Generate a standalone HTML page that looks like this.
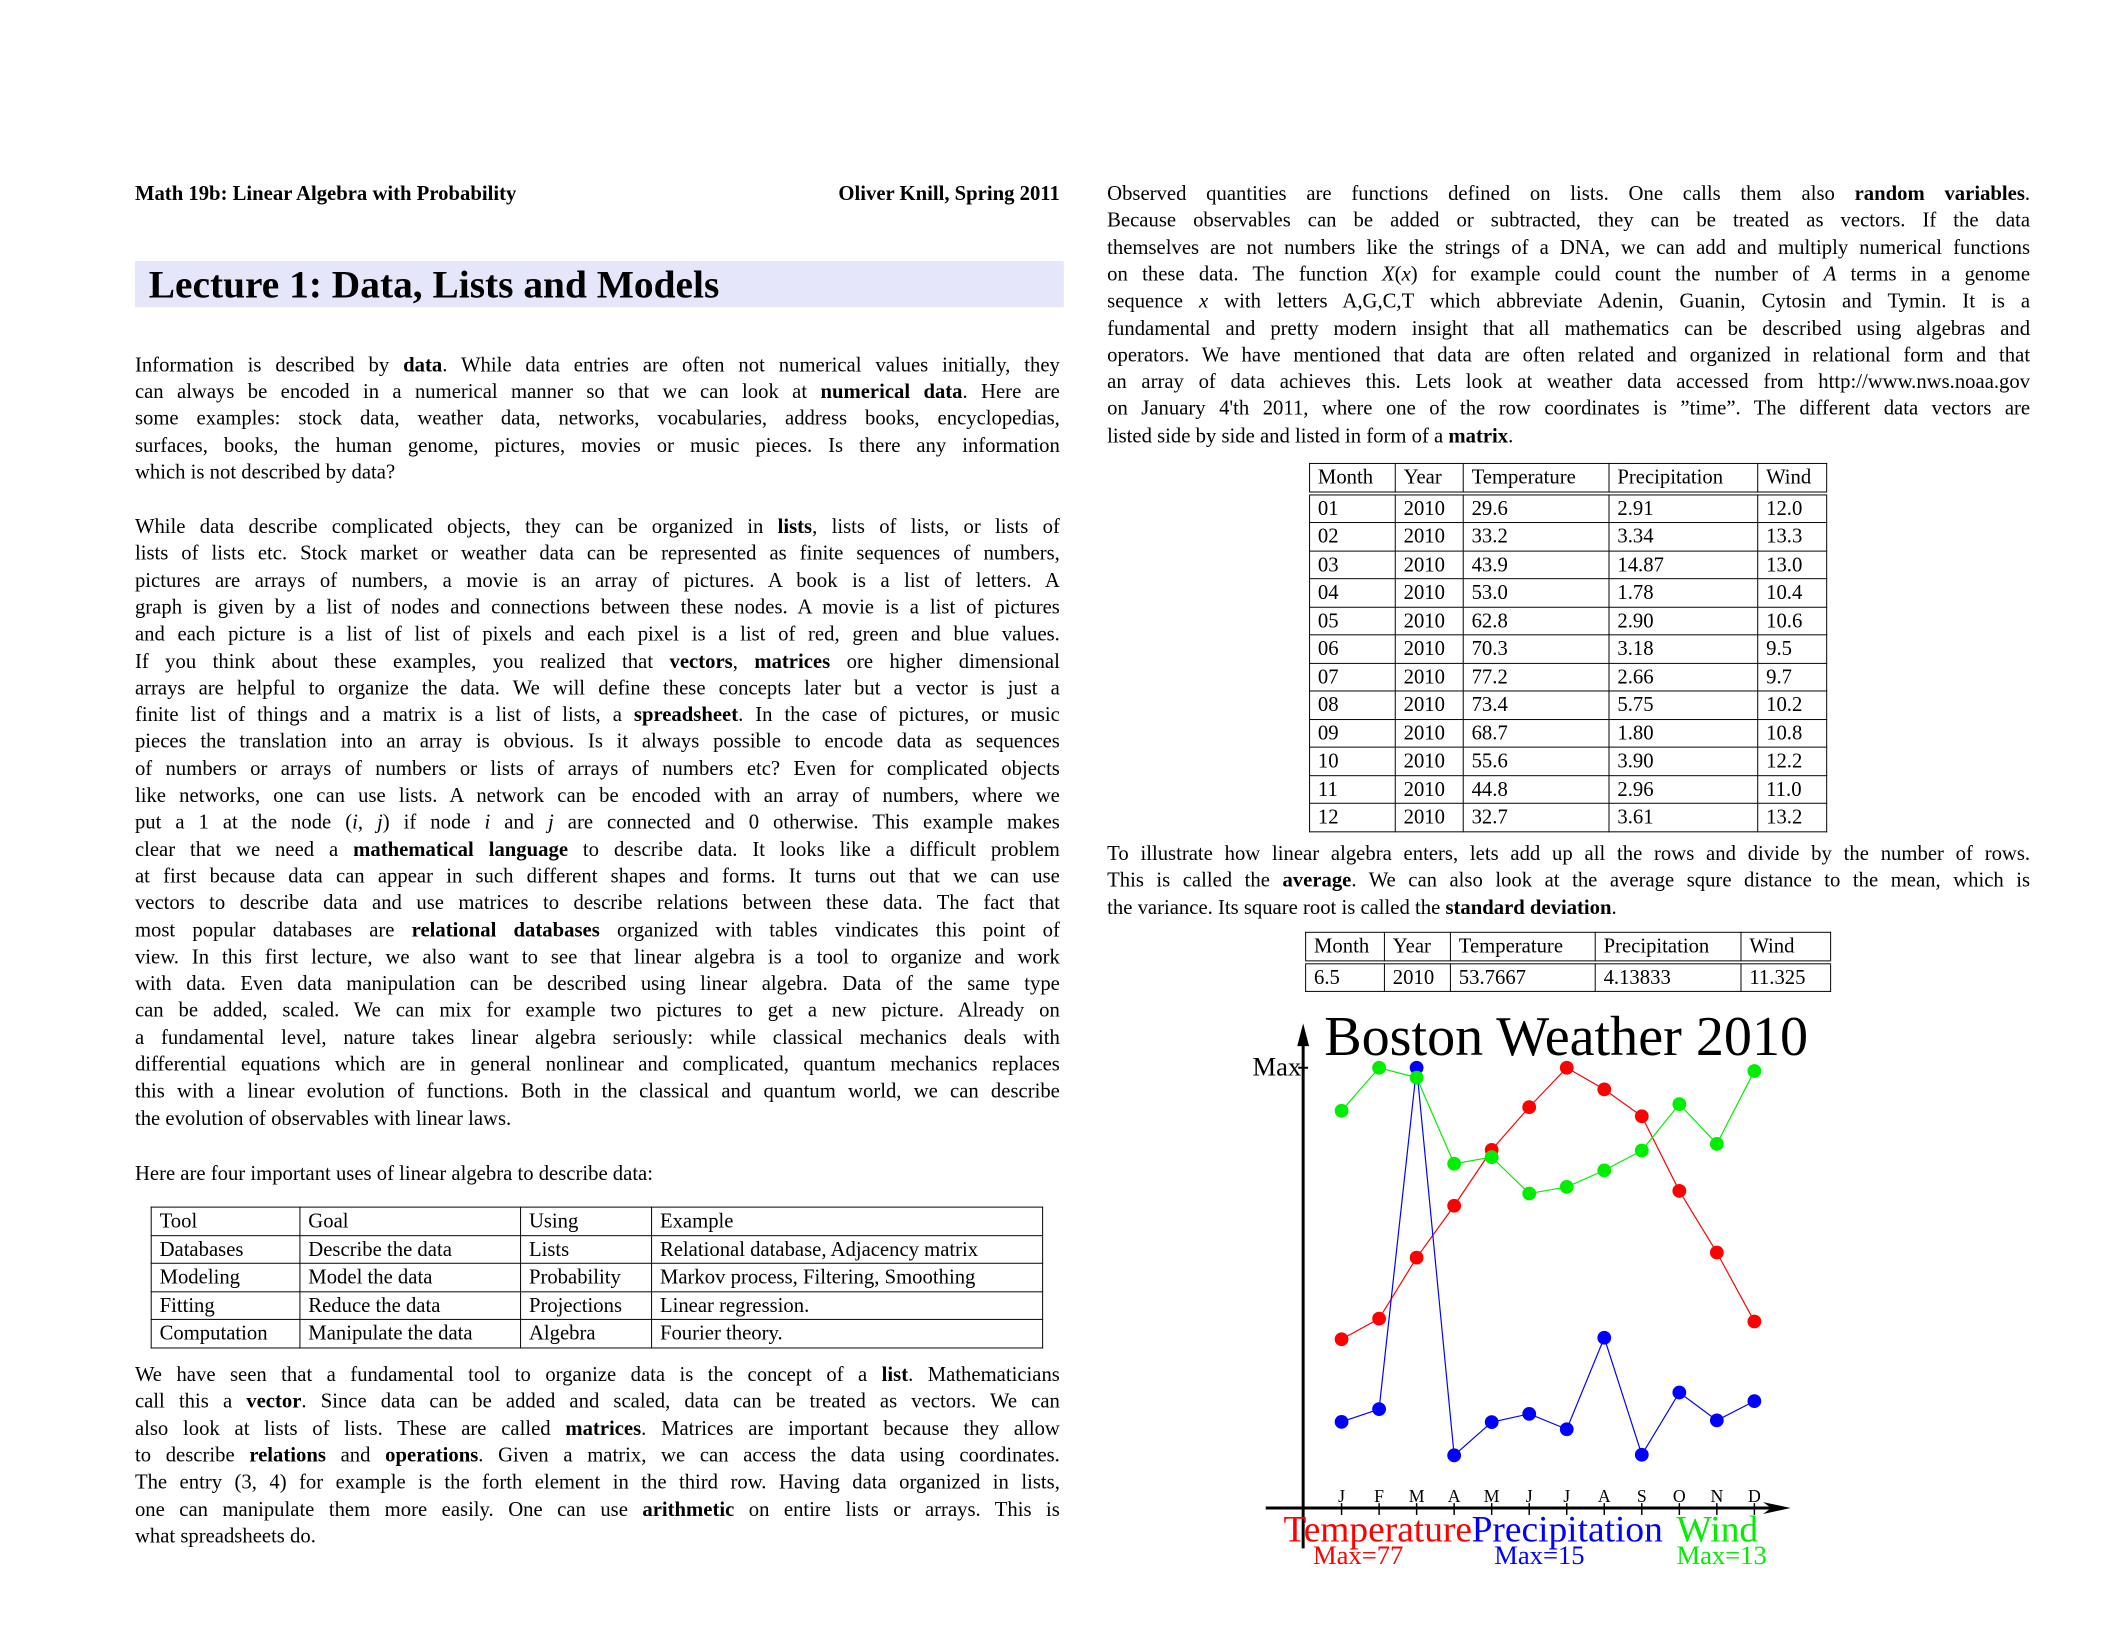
<!DOCTYPE html>
<html><head><meta charset="utf-8">
<style>
body{margin:0;background:#fff;}
#page{position:relative;width:2112px;height:1632px;overflow:hidden;background:#fff;font-family:"Liberation Serif",serif;color:#000;}
#inner{position:absolute;left:0;top:0;width:2144px;height:1657px;transform:scale(0.985);transform-origin:0 0;}
.ln{position:absolute;white-space:nowrap;font-size:21px;line-height:27px;text-align:justify;text-align-last:justify;}
.last{text-align-last:left;}
b{font-weight:bold;}
table{position:absolute;border-collapse:collapse;font-size:21px;}
td{border:1.5px solid #000;padding:0 8px;height:27.5px;line-height:27.5px;white-space:nowrap;}
</style></head><body>
<div id="page">
<div id="inner">
<div class="ln last" style="left:137px;top:183px;font-weight:bold;">Math 19b: Linear Algebra with Probability</div>
<div class="ln last" style="left:790px;top:183px;width:286px;text-align:right;text-align-last:right;font-weight:bold;">Oliver Knill, Spring 2011</div>
<div style="position:absolute;left:137px;top:265px;width:943px;height:47px;background:#e6e6fa;font-weight:bold;font-size:40px;line-height:47px;"><span style="margin-left:14px">Lecture 1: Data, Lists and Models</span></div>

<div>
<div class="ln" style="left:137px;top:357px;width:939px">Information is described by <b>data</b>. While data entries are often not numerical values initially, they</div>
<div class="ln" style="left:137px;top:384px;width:939px">can always be encoded in a numerical manner so that we can look at <b>numerical data</b>. Here are</div>
<div class="ln" style="left:137px;top:411px;width:939px">some examples: stock data, weather data, networks, vocabularies, address books, encyclopedias,</div>
<div class="ln" style="left:137px;top:439px;width:939px">surfaces, books, the human genome, pictures, movies or music pieces. Is there any information</div>
<div class="ln last" style="left:137px;top:466px;width:939px">which is not described by data?</div>
</div>

<div id="p2"></div>

<div class="ln last" style="left:137px;top:1178px">Here are four important uses of linear algebra to describe data:</div>

<table style="left:153px;top:1225px;width:906px">
<tr><td style="width:134px">Tool</td><td style="width:207px">Goal</td><td style="width:116px">Using</td><td>Example</td></tr>
<tr><td>Databases</td><td>Describe the data</td><td>Lists</td><td>Relational database, Adjacency matrix</td></tr>
<tr><td>Modeling</td><td>Model the data</td><td>Probability</td><td>Markov process, Filtering, Smoothing</td></tr>
<tr><td>Fitting</td><td>Reduce the data</td><td>Projections</td><td>Linear regression.</td></tr>
<tr><td>Computation</td><td>Manipulate the data</td><td>Algebra</td><td>Fourier theory.</td></tr>
</table>

<div id="p3"></div>
<div id="p4"></div>

<table id="wt" style="left:1329px;top:470px;width:526px"></table>

<div id="p5"></div>

<table style="left:1325px;top:946px;width:534px">
<tr style="border-bottom:4px double #000"><td style="width:63px">Month</td><td style="width:50px">Year</td><td style="width:130px">Temperature</td><td style="width:131px">Precipitation</td><td>Wind</td></tr>
<tr><td>6.5</td><td>2010</td><td>53.7667</td><td>4.13833</td><td>11.325</td></tr>
</table>

<svg id="chart" width="650" height="600" style="position:absolute;left:1250px;top:1020px;overflow:visible"></svg>
</div>
</div>
<script>
function lines(id,left,top,w,arr){
  var c=document.getElementById(id);
  arr.forEach(function(t,i){
    var d=document.createElement('div');
    d.className='ln'+(i==arr.length-1?' last':'');
    d.style.left=left+'px';d.style.top=(top+i*27.3)+'px';d.style.width=w+'px';
    d.innerHTML=t;c.appendChild(d);
  });
}
lines('p2',137,521,939,[
"While data describe complicated objects, they can be organized in <b>lists</b>, lists of lists, or lists of",
"lists of lists etc. Stock market or weather data can be represented as finite sequences of numbers,",
"pictures are arrays of numbers, a movie is an array of pictures. A book is a list of letters. A",
"graph is given by a list of nodes and connections between these nodes. A movie is a list of pictures",
"and each picture is a list of list of pixels and each pixel is a list of red, green and blue values.",
"If you think about these examples, you realized that <b>vectors</b>, <b>matrices</b> ore higher dimensional",
"arrays are helpful to organize the data. We will define these concepts later but a vector is just a",
"finite list of things and a matrix is a list of lists, a <b>spreadsheet</b>. In the case of pictures, or music",
"pieces the translation into an array is obvious. Is it always possible to encode data as sequences",
"of numbers or arrays of numbers or lists of arrays of numbers etc? Even for complicated objects",
"like networks, one can use lists. A network can be encoded with an array of numbers, where we",
"put a 1 at the node (<i>i</i>, <i>j</i>) if node <i>i</i> and <i>j</i> are connected and 0 otherwise. This example makes",
"clear that we need a <b>mathematical language</b> to describe data. It looks like a difficult problem",
"at first because data can appear in such different shapes and forms. It turns out that we can use",
"vectors to describe data and use matrices to describe relations between these data. The fact that",
"most popular databases are <b>relational databases</b> organized with tables vindicates this point of",
"view. In this first lecture, we also want to see that linear algebra is a tool to organize and work",
"with data. Even data manipulation can be described using linear algebra. Data of the same type",
"can be added, scaled. We can mix for example two pictures to get a new picture. Already on",
"a fundamental level, nature takes linear algebra seriously: while classical mechanics deals with",
"differential equations which are in general nonlinear and complicated, quantum mechanics replaces",
"this with a linear evolution of functions. Both in the classical and quantum world, we can describe",
"the evolution of observables with linear laws."]);
lines('p3',137,1382,939,[
"We have seen that a fundamental tool to organize data is the concept of a <b>list</b>. Mathematicians",
"call this a <b>vector</b>. Since data can be added and scaled, data can be treated as vectors. We can",
"also look at lists of lists. These are called <b>matrices</b>. Matrices are important because they allow",
"to describe <b>relations</b> and <b>operations</b>. Given a matrix, we can access the data using coordinates.",
"The entry (3, 4) for example is the forth element in the third row. Having data organized in lists,",
"one can manipulate them more easily. One can use <b>arithmetic</b> on entire lists or arrays. This is",
"what spreadsheets do."]);
lines('p4',1124,183,937,[
"Observed quantities are functions defined on lists. One calls them also <b>random variables</b>.",
"Because observables can be added or subtracted, they can be treated as vectors. If the data",
"themselves are not numbers like the strings of a DNA, we can add and multiply numerical functions",
"on these data. The function <i>X</i>(<i>x</i>) for example could count the number of <i>A</i> terms in a genome",
"sequence <i>x</i> with letters A,G,C,T which abbreviate Adenin, Guanin, Cytosin and Tymin. It is a",
"fundamental and pretty modern insight that all mathematics can be described using algebras and",
"operators. We have mentioned that data are often related and organized in relational form and that",
"an array of data achieves this. Lets look at weather data accessed from http://www.nws.noaa.gov",
"on January 4'th 2011, where one of the row coordinates is \u201dtime\u201d. The different data vectors are",
"listed side by side and listed in form of a <b>matrix</b>."]);
lines('p5',1124,853,937,[
"To illustrate how linear algebra enters, lets add up all the rows and divide by the number of rows.",
"This is called the <b>average</b>. We can also look at the average squre distance to the mean, which is",
"the variance. Its square root is called the <b>standard deviation</b>."]);

// data
var months=["J","F","M","A","M","J","J","A","S","O","N","D"];
var monthNums=["01","02","03","04","05","06","07","08","09","10","11","12"];
var temperature=[29.6,33.2,43.9,53.0,62.8,70.3,77.2,73.4,68.7,55.6,44.8,32.7];
var precipitation=[2.91,3.34,14.87,1.78,2.90,3.18,2.66,5.75,1.80,3.90,2.96,3.61];
var wind=[12.0,13.3,13.0,10.4,10.6,9.5,9.7,10.2,10.8,12.2,11.0,13.2];

// weather table
var wt=document.getElementById('wt');
var h='<tr style="border-bottom:4px double #000"><td style="width:70px">Month</td><td style="width:52px">Year</td><td style="width:131px">Temperature</td><td style="width:134px">Precipitation</td><td>Wind</td></tr>';
for(var i=0;i<12;i++){h+='<tr><td>'+monthNums[i]+'</td><td>2010</td><td>'+temperature[i].toFixed(1)+'</td><td>'+precipitation[i].toFixed(2)+'</td><td>'+wind[i].toFixed(1)+'</td></tr>';}
wt.innerHTML=h;
wt.querySelectorAll('tr').forEach(function(r,i){});

// chart
var svg=document.getElementById('chart');var NS='http://www.w3.org/2000/svg';
function el(t,a,txt){var e=document.createElementNS(NS,t);for(var k in a)e.setAttribute(k,a[k]);if(txt!==undefined)e.textContent=txt;svg.appendChild(e);return e;}
var x0=112,dx=38.1,yBase=511,yMax=64;
function X(i){return x0+i*dx;}
function Y(v,m){return yBase-(v/m)*(yBase-yMax);}
var ax=el('line',{x1:73,y1:552,x2:73,y2:30,stroke:'#000','stroke-width':3});


var ah=el('polygon',{points:'73,19 67,42 79,42',fill:'#000'});


var bx=el('line',{x1:35,y1:511,x2:550,y2:511,stroke:'#000','stroke-width':3});


var bh=el('polygon',{points:'568,511 540,505 548,511 540,517',fill:'#000'});


var ti=el('text',{x:340,y:51,'font-size':57,'text-anchor':'middle','font-family':'Liberation Serif'},'Boston Weather 2010');


var mx=el('text',{x:71,y:72,'font-size':27,'text-anchor':'end','font-family':'Liberation Serif'},'Max');


el('line',{x1:68,y1:64,x2:78,y2:64,stroke:'#000','stroke-width':2});
months.forEach(function(m,i){
  var t=el('line',{x1:X(i),y1:506,x2:X(i),y2:518,stroke:'#000','stroke-width':1.5});
  
  
  var l=el('text',{x:X(i),y:505,'font-size':18,'text-anchor':'middle','font-family':'Liberation Serif'},m);
  
  
});
function series(vals,color,name){
  var m=Math.max.apply(null,vals);
  var pts=vals.map(function(v,i){return X(i)+','+Y(v,m);}).join(' ');
  var p=el('polyline',{points:pts,fill:'none',stroke:color,'stroke-width':1.2});
  
  
  vals.forEach(function(v,i){
    var c=el('circle',{cx:X(i),cy:Y(v,m),r:7,fill:color});
    
    
  });
}
series(temperature,'#ff0000','temperature');
series(precipitation,'#0000ff','precipitation');
series(wind,'#00ee00','wind');
var legend=[["Temperature","#ff0000",53,"Max=77",83],["Precipitation","#0000ff",244,"Max=15",267],["Wind","#00ee00",452,"Max=13",452]];
legend.forEach(function(g){
  var t=el('text',{x:g[2],y:545,'font-size':38,fill:g[1],'font-family':'Liberation Serif'},g[0]);
  
  
  var s=el('text',{x:g[4],y:568,'font-size':27,fill:g[1],'font-family':'Liberation Serif'},g[3]);
  
  
});
</script>
</body></html>
